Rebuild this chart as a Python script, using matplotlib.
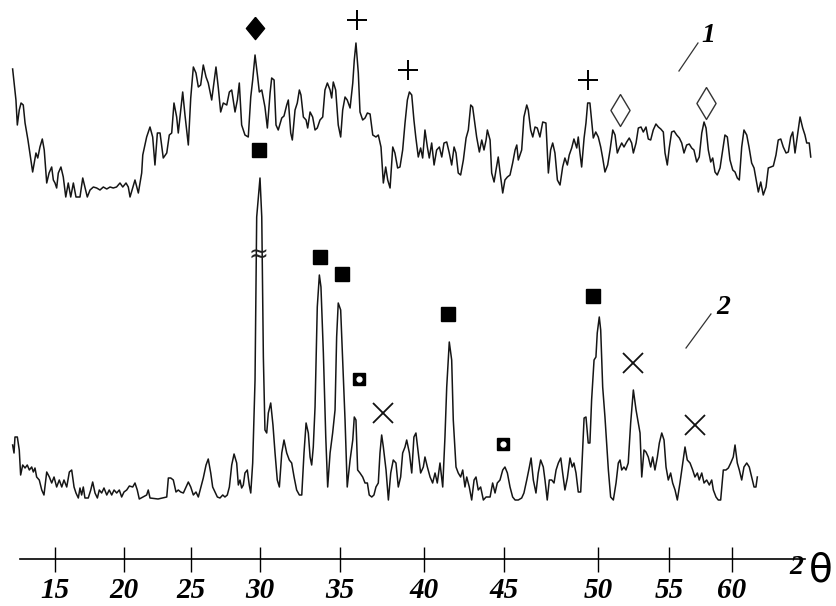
import numpy as np
import matplotlib.pyplot as plt

# 2-theta tick labels and where the hand-drawn scale puts them (px across the figure)
TICKS = [15, 20, 25, 30, 35, 40, 45, 50, 55, 60]
TICK_PIX = [55, 124, 191, 260, 340, 424, 504, 598, 669, 732]

# curve 1 (upper pattern): 2theta, intensity (arb. units)
THETA_1 = [11.93, 12.17, 12.27, 12.41, 12.54, 12.70, 12.83, 13.04, 13.38, 13.62, 13.75, 13.91, 14.08, 14.22,
           14.40, 14.57, 14.76, 14.88, 15.00, 15.12, 15.24, 15.43, 15.60, 15.78, 15.96, 16.14, 16.33, 16.52,
           16.81, 17.01, 17.17, 17.34, 17.54, 17.78, 18.02, 18.26, 18.50, 18.75, 18.99, 19.22, 19.46, 19.71,
           19.91, 20.15, 20.32, 20.45, 20.82, 21.07, 21.32, 21.40, 21.69, 21.94, 22.14, 22.31, 22.49, 22.69,
           22.93, 23.19, 23.38, 23.56, 23.73, 23.93, 24.05, 24.18, 24.38, 24.55, 24.80, 24.98, 25.17, 25.36,
           25.53, 25.70, 25.89, 26.09, 26.25, 26.50, 26.62, 26.81, 26.98, 27.15, 27.34, 27.59, 27.78, 27.95,
           28.19, 28.36, 28.50, 28.67, 28.91, 29.15, 29.33, 29.47, 29.64, 29.83, 29.95, 30.11, 30.31, 30.46,
           30.63, 30.73, 30.88, 31.00, 31.14, 31.36, 31.50, 31.67, 31.77, 31.92, 32.02, 32.19, 32.33, 32.46,
           32.56, 32.71, 32.88, 32.98, 33.13, 33.29, 33.44, 33.58, 33.75, 33.92, 34.06, 34.21, 34.38, 34.48,
           34.58, 34.73, 34.89, 35.04, 35.16, 35.30, 35.43, 35.60, 35.76, 35.85, 35.95, 36.09, 36.19, 36.35,
           36.49, 36.63, 36.79, 36.95, 37.14, 37.28, 37.44, 37.58, 37.72, 37.84, 37.98, 38.14, 38.27, 38.43,
           38.57, 38.73, 38.87, 39.01, 39.13, 39.27, 39.40, 39.51, 39.66, 39.80, 39.92, 40.06, 40.21, 40.33,
           40.48, 40.63, 40.79, 40.96, 41.11, 41.25, 41.42, 41.58, 41.73, 41.88, 42.00, 42.14, 42.29, 42.46,
           42.63, 42.77, 42.92, 43.04, 43.19, 43.29, 43.46, 43.61, 43.75, 43.88, 43.96, 44.13, 44.23, 44.38,
           44.50, 44.64, 44.75, 44.92, 45.05, 45.18, 45.32, 45.46, 45.59, 45.68, 45.76, 45.94, 46.06, 46.21,
           46.29, 46.42, 46.53, 46.65, 46.77, 46.91, 47.06, 47.23, 47.36, 47.48, 47.59, 47.71, 47.84, 47.98,
           48.12, 48.24, 48.37, 48.47, 48.60, 48.72, 48.87, 48.95, 49.04, 49.13, 49.26, 49.36, 49.45, 49.57,
           49.66, 49.75, 49.88, 50.02, 50.19, 50.33, 50.49, 50.68, 50.85, 51.04, 51.20, 51.36, 51.50, 51.67,
           51.83, 52.02, 52.20, 52.37, 52.49, 52.68, 52.84, 53.03, 53.19, 53.38, 53.54, 53.71, 53.89, 54.08,
           54.25, 54.42, 54.60, 54.72, 54.88, 55.02, 55.21, 55.40, 55.61, 55.82, 56.01, 56.19, 56.40, 56.61,
           56.80, 56.98, 57.20, 57.40, 57.60, 57.78, 57.94, 58.12, 58.31, 58.47, 58.65, 58.83, 59.05, 59.26,
           59.44, 59.63, 59.84, 60.06, 60.24, 60.42, 60.58, 60.77, 60.95, 61.17, 61.35, 61.56, 61.75, 61.96,
           62.09, 62.28, 62.48, 62.70, 62.88, 63.07, 63.28, 63.49, 63.67, 63.87, 64.07, 64.29, 64.47, 64.66,
           64.82, 65.00, 65.18, 65.40, 65.61, 65.79, 65.93, 66.13, 66.25]
INT_1 = [490, 459, 434, 449, 456, 454, 436, 419, 387, 406, 401, 412, 420, 409,
         376, 386, 392, 379, 376, 371, 386, 392, 382, 362, 376, 362, 376, 362,
         362, 381, 372, 362, 369, 372, 371, 369, 372, 370, 372, 371, 372, 376,
         372, 376, 372, 362, 379, 366, 386, 404, 422, 432, 422, 394, 426, 426,
         401, 406, 424, 426, 456, 442, 426, 442, 467, 444, 414, 461, 492, 486,
         472, 474, 494, 482, 476, 459, 472, 492, 471, 447, 456, 454, 467, 469,
         447, 459, 476, 434, 424, 422, 462, 479, 504, 482, 467, 469, 452, 431,
         466, 481, 479, 434, 429, 441, 443, 454, 459, 426, 419, 449, 456, 469,
         464, 442, 439, 431, 447, 442, 429, 431, 439, 442, 469, 476, 469, 461,
         477, 469, 434, 422, 449, 462, 459, 451, 476, 499, 516, 486, 447, 439,
         441, 446, 445, 424, 422, 424, 412, 376, 392, 379, 371, 412, 406, 391,
         392, 409, 436, 459, 467, 464, 439, 422, 402, 411, 401, 429, 412, 401,
         416, 394, 409, 412, 402, 416, 417, 406, 394, 412, 406, 386, 384, 399,
         421, 429, 454, 452, 434, 422, 407, 419, 409, 419, 429, 419, 386, 377,
         389, 402, 387, 366, 379, 382, 384, 396, 409, 414, 399, 409, 442, 454,
         449, 429, 422, 432, 431, 422, 437, 436, 386, 409, 416, 406, 379, 374,
         392, 401, 394, 404, 411, 420, 411, 422, 406, 392, 421, 436, 456, 456,
         439, 421, 427, 422, 412, 401, 387, 394, 409, 429, 424, 406, 411, 416,
         412, 417, 421, 416, 406, 416, 431, 432, 427, 432, 420, 419, 429, 435,
         432, 430, 427, 406, 394, 411, 427, 428, 424, 421, 416, 406, 414, 415,
         411, 409, 397, 402, 426, 437, 431, 409, 397, 401, 387, 384, 391, 409,
         424, 422, 399, 389, 387, 381, 379, 412, 429, 424, 412, 396, 391, 376,
         367, 377, 364, 372, 391, 392, 393, 404, 419, 420, 412, 406, 407, 422,
         427, 406, 422, 442, 431, 424, 416, 416, 402]

# curve 2 (lower pattern)
THETA_2 = [11.93, 12.03, 12.10, 12.27, 12.41, 12.51, 12.66, 12.83, 12.99, 13.14, 13.31, 13.43, 13.55, 13.67,
           13.86, 14.04, 14.20, 14.40, 14.59, 14.76, 14.93, 15.12, 15.31, 15.49, 15.65, 15.85, 16.04, 16.21,
           16.38, 16.52, 16.69, 16.81, 16.93, 17.05, 17.17, 17.41, 17.59, 17.73, 17.90, 18.07, 18.21, 18.38,
           18.55, 18.75, 18.93, 19.11, 19.28, 19.47, 19.66, 19.83, 20.00, 20.20, 20.40, 20.65, 20.82, 20.99,
           21.14, 21.69, 21.81, 21.94, 22.54, 23.19, 23.31, 23.49, 23.68, 23.88, 24.05, 24.23, 24.43, 24.63,
           24.80, 24.98, 25.17, 25.36, 25.53, 25.70, 25.89, 26.09, 26.25, 26.43, 26.57, 26.74, 26.91, 27.10,
           27.30, 27.46, 27.63, 27.78, 27.95, 28.12, 28.31, 28.43, 28.55, 28.67, 28.79, 28.91, 29.08, 29.22,
           29.33, 29.47, 29.57, 29.64, 29.76, 30.00, 30.11, 30.21, 30.31, 30.42, 30.52, 30.67, 30.81, 30.94,
           31.08, 31.21, 31.36, 31.50, 31.67, 31.83, 31.98, 32.13, 32.29, 32.46, 32.61, 32.75, 32.88, 33.02,
           33.13, 33.23, 33.33, 33.44, 33.58, 33.71, 33.81, 33.96, 34.11, 34.23, 34.38, 34.54, 34.69, 34.79,
           34.89, 35.04, 35.16, 35.30, 35.43, 35.60, 35.76, 35.85, 35.95, 36.05, 36.19, 36.35, 36.49, 36.63,
           36.74, 36.89, 37.02, 37.14, 37.28, 37.38, 37.48, 37.58, 37.74, 37.88, 38.02, 38.17, 38.33, 38.47,
           38.61, 38.73, 38.87, 38.97, 39.13, 39.27, 39.40, 39.52, 39.66, 39.80, 39.96, 40.06, 40.21, 40.38,
           40.54, 40.69, 40.83, 41.00, 41.17, 41.31, 41.42, 41.58, 41.73, 41.83, 42.00, 42.14, 42.29, 42.42,
           42.56, 42.67, 42.83, 42.98, 43.13, 43.25, 43.39, 43.54, 43.71, 43.88, 44.13, 44.29, 44.44, 44.58,
           44.75, 44.92, 45.05, 45.18, 45.32, 45.46, 45.59, 45.76, 45.94, 46.06, 46.21, 46.35, 46.44, 46.56,
           46.70, 46.82, 46.95, 47.09, 47.18, 47.30, 47.41, 47.54, 47.66, 47.77, 47.89, 48.02, 48.12, 48.24,
           48.37, 48.51, 48.63, 48.72, 48.83, 48.95, 49.08, 49.19, 49.26, 49.36, 49.48, 49.57, 49.66, 49.79,
           49.89, 49.96, 50.09, 50.19, 50.33, 50.49, 50.61, 50.73, 50.89, 51.08, 51.27, 51.43, 51.55, 51.67,
           51.83, 51.97, 52.13, 52.30, 52.49, 52.68, 52.84, 52.96, 53.08, 53.24, 53.38, 53.54, 53.71, 53.85,
           54.01, 54.18, 54.32, 54.49, 54.65, 54.79, 54.95, 55.13, 55.29, 55.48, 55.66, 55.87, 56.09, 56.27,
           56.45, 56.67, 56.88, 57.06, 57.25, 57.40, 57.60, 57.78, 57.99, 58.20, 58.39, 58.52, 58.73, 58.91,
           59.10, 59.31, 59.52, 59.71, 59.90, 60.10, 60.24, 60.42, 60.58, 60.77, 60.95, 61.17, 61.37, 61.56,
           61.75, 61.90, 62.01]
INT_2 = [114, 106, 122, 122, 109, 84, 94, 91, 94, 89, 92, 87, 91, 82,
         79, 69, 64, 87, 82, 76, 82, 72, 79, 72, 79, 72, 87, 89,
         72, 66, 61, 71, 64, 72, 61, 61, 69, 77, 66, 61, 69, 66,
         71, 64, 69, 64, 69, 66, 69, 62, 67, 69, 73, 72, 76, 69,
         60, 64, 69, 61, 60, 62, 81, 81, 79, 67, 69, 67, 66, 72,
         77, 72, 64, 67, 62, 71, 81, 94, 100, 86, 72, 67, 62, 61,
         64, 62, 64, 72, 94, 105, 96, 74, 79, 71, 74, 86, 89, 74,
         66, 96, 146, 179, 342, 381, 342, 202, 129, 126, 146, 156, 134, 106,
         79, 72, 106, 119, 106, 99, 96, 82, 69, 64, 64, 106, 136, 126,
         102, 94, 112, 152, 252, 284, 272, 206, 122, 72, 106, 126, 149, 222,
         256, 249, 199, 139, 72, 99, 119, 142, 139, 89, 86, 82, 76, 76,
         64, 62, 64, 72, 76, 106, 124, 112, 89, 59, 86, 99, 96, 72,
         82, 106, 112, 119, 106, 86, 122, 126, 106, 86, 92, 102, 92, 82,
         76, 86, 76, 96, 72, 122, 172, 217, 199, 139, 92, 86, 82, 89,
         72, 82, 72, 59, 79, 82, 69, 72, 59, 62, 62, 76, 66, 76,
         79, 89, 92, 86, 72, 62, 59, 59, 61, 66, 79, 92, 101, 79,
         66, 86, 99, 92, 79, 59, 79, 79, 76, 89, 96, 101, 86, 69,
         81, 101, 92, 96, 86, 67, 67, 112, 141, 142, 116, 116, 159, 199,
         202, 226, 242, 229, 172, 142, 116, 89, 62, 59, 76, 96, 99, 89,
         92, 89, 96, 136, 169, 149, 136, 126, 82, 109, 107, 102, 92, 102,
         89, 102, 116, 126, 119, 92, 79, 86, 76, 69, 59, 76, 96, 112,
         99, 96, 89, 82, 86, 79, 86, 76, 79, 74, 79, 69, 62, 59,
         59, 89, 89, 91, 96, 102, 114, 96, 89, 79, 92, 96, 92, 82,
         72, 72, 82]

# phase markers (2theta, intensity)
DIAMOND_F = ([29.64], [531])
PLUS = ([36.01, 39.05, 49.47], [539, 489, 479])
DIAMOND_O = ([51.55, 57.94], [449, 456])
SQUARE = ([29.93, 33.78, 35.12, 41.50, 49.73], [409, 302, 285, 245, 263])
SQUARE_O = ([36.13, 44.94], [180, 115])
CROSS = ([37.56, 52.46, 57.06], [146, 196, 134])

W, H = 836, 606
ext_t = [5] + TICKS + [75]
ext_p = [TICK_PIX[0] - 10 * 13.8] + TICK_PIX + [TICK_PIX[-1] + 15 * 12.6]


def fwd(x):
    return np.interp(x, ext_t, ext_p)


def inv(p):
    return np.interp(p, ext_p, ext_t)


fig = plt.figure(figsize=(W / 100, H / 100), dpi=100)
ax = fig.add_axes([0, 0, 1, 1])
ax.set_xscale('function', functions=(fwd, inv))
ax.set_xlim(inv(0), inv(W))
ax.set_ylim(-47, 559)

ink = '#151515'
ax.plot(THETA_1, INT_1, color=ink, lw=1.1)
ax.plot(THETA_2, INT_2, color=ink, lw=1.1)

dia_f = [(0, 1), (0.82, 0), (0, -1), (-0.82, 0), (0, 1)]
dia_o = [(0, 1), (0.6, 0), (0, -1), (-0.6, 0), (0, 1)]
ax.plot(*DIAMOND_F, ls='none', marker=dia_f, ms=16, color='black')
ax.plot(*PLUS, ls='none', marker='+', ms=15, mew=1.4, color='black')
ax.plot(*DIAMOND_O, ls='none', marker=dia_o, ms=23, mfc='white', mec='#333333', mew=1.0)
ax.plot(*SQUARE, ls='none', marker='s', ms=10, color='black')
ax.plot(*SQUARE_O, ls='none', marker='s', ms=9, color='black')
ax.plot(*SQUARE_O, ls='none', marker='o', ms=3.5, mfc='white', mec='white')
ax.plot(*CROSS, ls='none', marker='x', ms=14, mew=1.3, color='#111111')

# break mark on the strongest peak
ax.text(29.86, 304, '\u2248', fontsize=17, ha='center', va='center', color='#222222')

lab_font = dict(family='Liberation Serif', weight='bold', style='italic')
ax.plot([55.79, 57.30], [488, 516], color='#333333', lw=0.9)
ax.text(58.10, 524, '1', fontsize=20, ha='center', va='center', **lab_font)
ax.plot([56.35, 58.33], [211, 245], color='#333333', lw=0.9)
ax.text(59.29, 252, '2', fontsize=20, ha='center', va='center', **lab_font)

# bottom 2theta axis
for s in ['left', 'right', 'top']:
    ax.spines[s].set_visible(False)
ax.spines['bottom'].set_position(('data', 0))
ax.spines['bottom'].set_bounds(inv(20), inv(805))
ax.spines['bottom'].set_linewidth(1.2)
ax.set_yticks([])
ax.set_xticks(TICKS)
ax.set_xticklabels([str(t) for t in TICKS])
ax.tick_params(axis='x', direction='inout', length=18, width=1.0, pad=4, labelsize=21)
for lab in ax.get_xticklabels():
    lab.set_fontfamily('Liberation Serif')
    lab.set_fontweight('bold')
    lab.set_fontstyle('italic')

fig.text(796 / W, 1 - 568 / H, '2', fontsize=20, ha='center', va='center', **lab_font)
fig.text(821 / W, 1 - 571 / H, '\u03b8', fontsize=28, ha='center', va='center', family='DejaVu Sans')

fig.savefig('out.png', dpi=100)
